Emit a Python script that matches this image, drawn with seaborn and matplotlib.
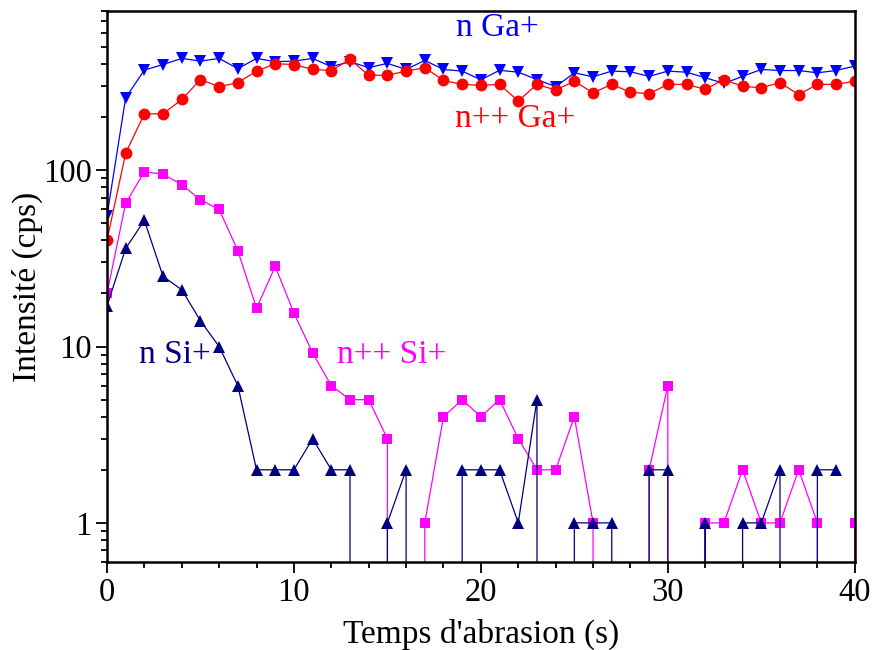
import numpy as np
import pandas as pd
import matplotlib
matplotlib.use("Agg")
import matplotlib.pyplot as plt
import matplotlib.ticker as mticker
import seaborn as sns

# ---- data ----
time_s = list(range(0, 41))

n_ga = [55, 258, 370, 398, 431, 416, 431, 377, 431, 413, 416, 431, 387, 413, 382,
        404, 373, 420, 373, 365, 326, 369, 360, 327, 298, 357, 339, 365, 362, 341,
        365, 360, 335, 311, 341, 373, 368, 368, 357, 368, 390]

npp_ga = [40, 125, 209, 209, 252, 327, 298, 314, 365, 402, 398, 373, 368, 425, 346,
          346, 365, 382, 323, 307, 303, 307, 247, 307, 285, 320, 275, 307, 277, 272,
          307, 307, 288, 327, 299, 294, 314, 269, 307, 307, 320]

npp_si = [20, 65, 98, 95, 83, 68, 60, 35, 16.5, 28.5, 15.5, 9.2, 6, 5, 5,
          3, 0, 1, 4, 5, 4, 5, 3, 2, 2, 4, 1, 0, 0, 2,
          6, 0, 1, 1, 2, 1, 1, 2, 1, 0, 1]

n_si = [17, 36, 52, 25, 21, 14, 10, 6, 2, 2, 2, 3, 2, 2, 0,
        1, 2, 0, 0, 2, 2, 2, 1, 5, 0, 1, 1, 1, 0, 2,
        2, 0, 1, 0, 1, 1, 2, 0, 2, 2, np.nan]

series_labels = ["n Ga+", "n++ Ga+", "n++ Si+", "n Si+"]
x_ticks = [0, 10, 20, 30, 40]
y_ticks = [1, 10, 100]
y_tick_labels = ["1", "10", "100"]

# ---- figure ----
sns.set_theme(style="white")
plt.rcParams["font.family"] = ["Liberation Serif", "DejaVu Serif"]
plt.rcParams["text.color"] = "black"
plt.rcParams["axes.labelcolor"] = "black"

fig = plt.figure(figsize=(8.74, 6.5), dpi=100)
ax = fig.add_axes([0.1224, 0.1354, 0.978 - 0.1224, 0.983 - 0.1354])

df = pd.DataFrame({"t": time_s, "n_ga": n_ga, "npp_ga": npp_ga,
                   "npp_si": npp_si, "n_si": n_si})

styles = [
    ("n_ga", "#0000FF", "v", 9.0),
    ("npp_ga", "#FF0000", "o", 8.5),
    ("npp_si", "#FF00FF", "s", 7.0),
    ("n_si", "#000080", "^", 9.0),
]
for col, color, mk, ms in styles:
    sub = df[["t", col]].dropna()
    sns.lineplot(data=sub, x="t", y=col, ax=ax, color=color, marker=mk,
                 markersize=ms, markeredgewidth=0, linewidth=0.9,
                 errorbar=None, sort=False, legend=False)

ax.set_yscale("log")
ax.set_xlim(0, 40)
ax.set_ylim(0.6, 800)

ax.set_xticks(x_ticks)
ax.xaxis.set_minor_locator(mticker.MultipleLocator(2))
ax.set_yticks(y_ticks)
ax.set_yticklabels(y_tick_labels)
ax.yaxis.set_minor_locator(mticker.LogLocator(base=10, subs=np.arange(2, 10)))
ax.yaxis.set_minor_formatter(mticker.NullFormatter())

ax.tick_params(axis="both", which="major", direction="out", length=8, width=1.3,
               labelsize=23.5, colors="black", bottom=True, left=True,
               top=False, right=False, pad=3)
ax.tick_params(axis="both", which="minor", direction="out", length=4.5, width=1.3,
               colors="black", bottom=True, left=True, top=False, right=False)

for s in ax.spines.values():
    s.set_linewidth(1.8)
    s.set_color("black")

ax.set_xlabel("Temps d'abrasion (s)", fontsize=24, labelpad=8, color="black")
ax.set_ylabel("Intensité (cps)", fontsize=24, labelpad=0, color="black")

ax.text(18.65, 575, series_labels[0], color="#0000FF", fontsize=24, va="baseline", ha="left")
ax.text(18.6, 177, series_labels[1], color="#FF0000", fontsize=24, va="baseline", ha="left")
ax.text(12.28, 8.1, series_labels[2], color="#FF00FF", fontsize=24, va="baseline", ha="left")
ax.text(1.73, 8.1, series_labels[3], color="#000080", fontsize=24, va="baseline", ha="left")

ax.grid(False)
fig.savefig("out.png", dpi=100, facecolor="white")
